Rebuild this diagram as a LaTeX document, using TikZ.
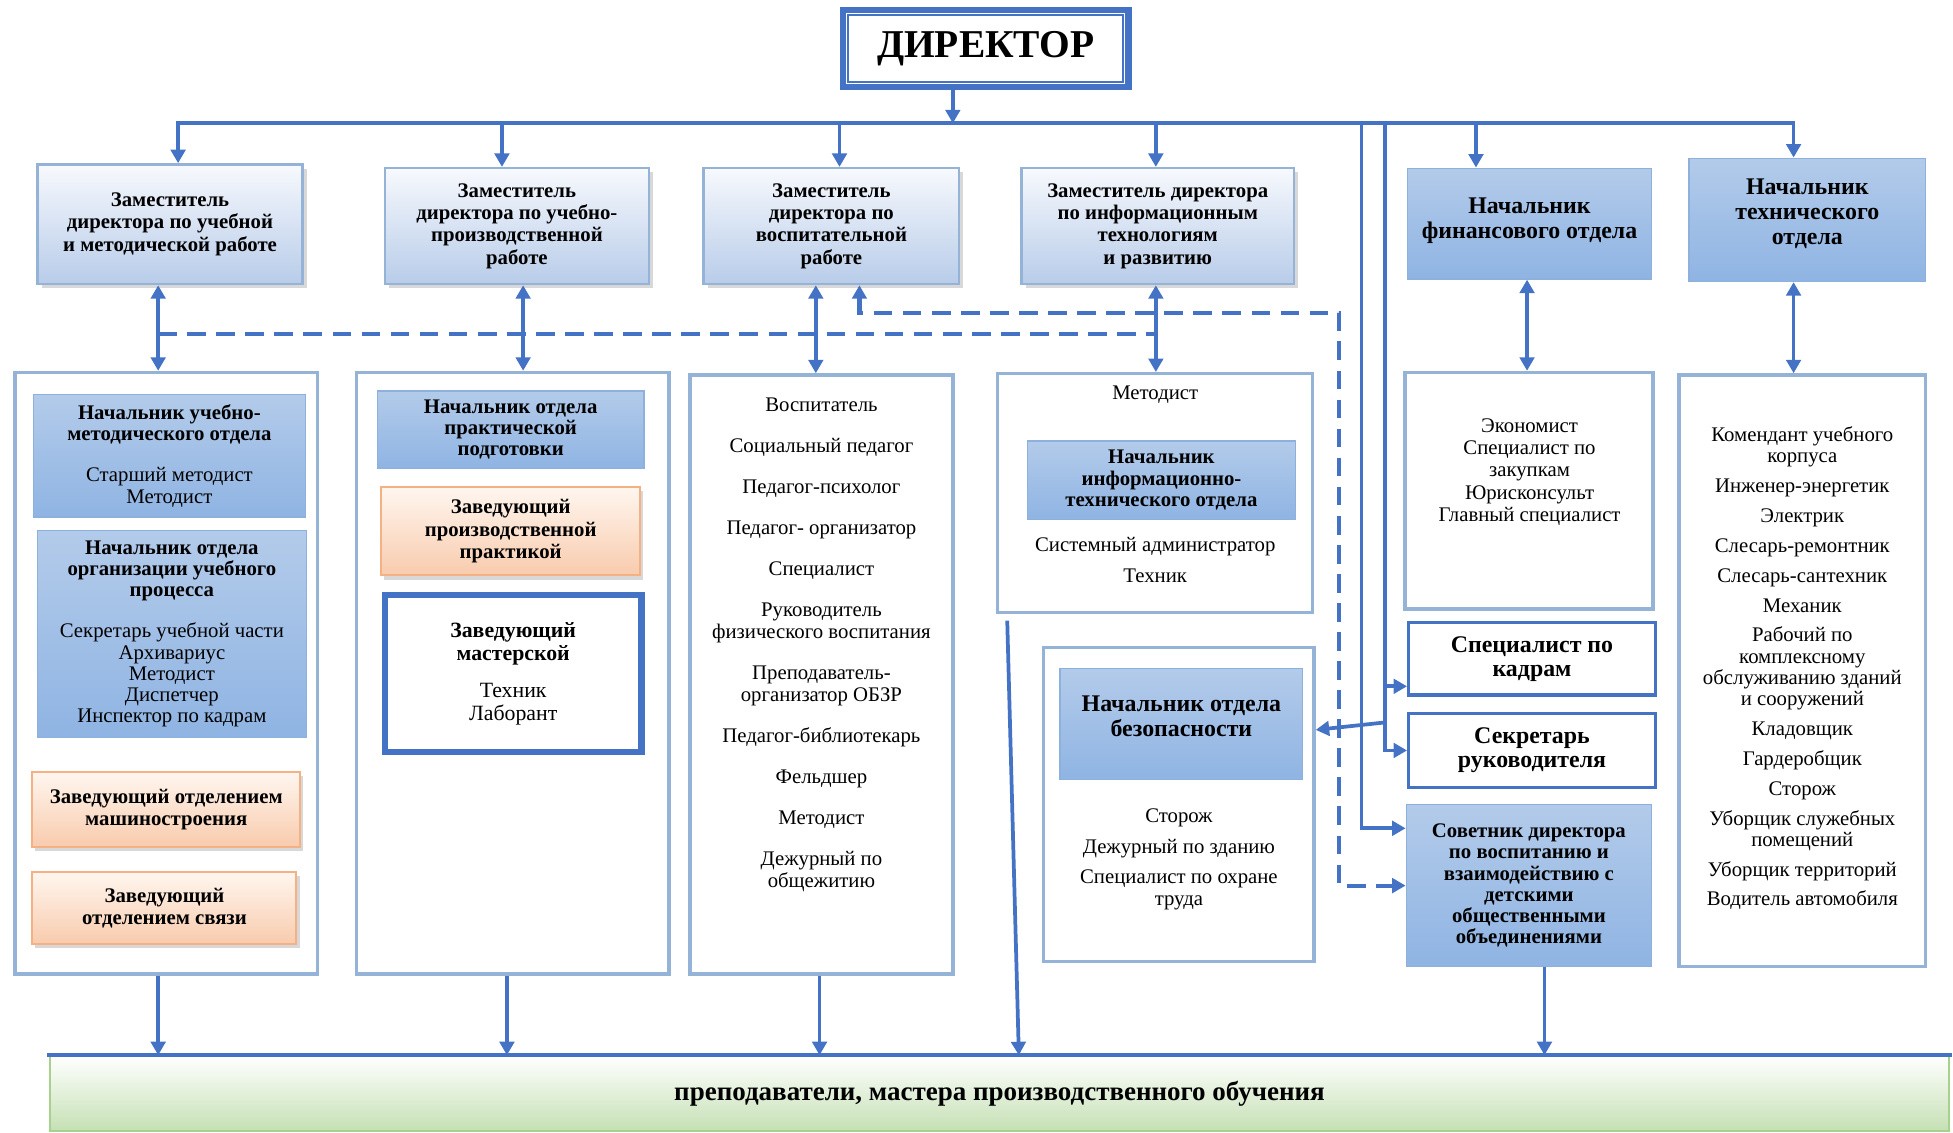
\documentclass[tikz,border=0pt]{standalone}
\usepackage{fontspec}
\setmainfont{Liberation Serif}
\usetikzlibrary{arrows.meta,shadows}

\definecolor{lnblue}{HTML}{4472C4}
\definecolor{frameblue}{HTML}{95B3D7}
\definecolor{deptop}{HTML}{F7F9FD}
\definecolor{depbot}{HTML}{B8CCE9}
\definecolor{bltop}{HTML}{B3CBEA}
\definecolor{blbot}{HTML}{8FB4E3}
\definecolor{boxedge}{HTML}{8EB0DC}
\definecolor{ortop}{HTML}{FFF6EF}
\definecolor{orbot}{HTML}{F8CBAD}
\definecolor{oredge}{HTML}{F4B183}
\definecolor{grbot}{HTML}{C5E0B4}
\definecolor{gredge}{HTML}{A9D18E}

\begin{document}
\begin{tikzpicture}[x=0.6pt, y=-0.6pt,
    every node/.style={align=center, inner sep=1pt},
    link/.style={draw=lnblue, line width=1.8pt, line cap=rect},
    arr/.style={draw=lnblue, line width=1.8pt, -{Triangle[length=6.5pt,width=7pt]}},
    arr2/.style={draw=lnblue, line width=1.8pt, {Triangle[length=6.5pt,width=7pt]}-{Triangle[length=6.5pt,width=7pt]}},
    dlink/.style={draw=lnblue, line width=2pt, dash pattern=on 9pt off 5pt},
    dirbox/.style={draw=lnblue, line width=3pt, fill=white, font=\fontsize{19}{22}\selectfont\bfseries},
    deputy/.style={draw=frameblue, line width=1.2pt, top color=deptop, bottom color=depbot,
        drop shadow={shadow xshift=2pt, shadow yshift=-2pt, fill=black!30},
        font=\fontsize{10}{10.8}\selectfont\bfseries},
    bluebox/.style={draw=boxedge, line width=0.6pt, top color=bltop, bottom color=blbot,
        font=\fontsize{10}{10.2}\selectfont},
    chief/.style={bluebox, font=\fontsize{11.5}{12}\selectfont\bfseries},
    orbox/.style={draw=oredge, line width=1pt, top color=ortop, bottom color=orbot,
        drop shadow={shadow xshift=1.5pt, shadow yshift=-2pt, fill=black!30},
        font=\fontsize{10}{10.8}\selectfont\bfseries},
    cont/.style={draw=frameblue, line width=1.6pt, fill=white},
    staff/.style={font=\fontsize{10}{10.5}\selectfont},
    kbox/.style={draw=lnblue, line width=1.6pt, fill=white, font=\fontsize{11.5}{11.4}\selectfont\bfseries},
    shopbox/.style={draw=lnblue, line width=3pt, fill=white, font=\fontsize{10.5}{11}\selectfont},
    barbox/.style={draw=gredge, line width=1pt, top color=white, bottom color=grbot,
        font=\fontsize{13}{14}\selectfont\bfseries}
  ]
  \useasboundingbox (0,0) rectangle (1568,909);

  % director
  \node[dirbox, minimum width=137.4pt, minimum height=37.2pt] (dir) at (791.5,39) {ДИРЕКТОР};
  \draw[lnblue, line width=1pt] ([shift={(4pt,-4pt)}]dir.north west) rectangle ([shift={(-4pt,4pt)}]dir.south east);

  % deputies and chiefs
  \node[deputy, minimum width=127.8pt, minimum height=57.6pt] (z1) at (136.5,180) {Заместитель\\директора по учебной\\и методической работе};
  \node[deputy, minimum width=127.2pt, minimum height=55.8pt] (z2) at (415,181.5) {Заместитель\\директора по учебно-\\производственной\\работе};
  \node[deputy, minimum width=123pt, minimum height=55.8pt] (z3) at (667.5,181.5) {Заместитель\\директора по\\воспитательной\\работе};
  \node[deputy, minimum width=131.4pt, minimum height=55.8pt] (z4) at (929.5,181.5) {Заместитель директора\\по информационным\\технологиям\\и развитию};
  \node[chief, minimum width=117.6pt, minimum height=53.4pt] (fin) at (1228,179.5) {Начальник\\финансового отдела\\[-7.2pt]};
  \node[chief, minimum width=114pt, minimum height=59.4pt] (tech) at (1451,176.5) {Начальник\\технического\\отдела\\[-4.2pt]};

  % departments
  \node[cont, minimum width=145.8pt, minimum height=289.8pt] (A) at (133.5,540.5) {};
  \node[cont, minimum width=150.6pt, minimum height=289.8pt] (B) at (411.5,540.5) {};
  \node[cont, minimum width=126.6pt, minimum height=288.6pt] (C) at (659.5,541.5) {};
  \node[cont, minimum width=151.8pt, minimum height=115.2pt] (D) at (927.5,396) {};
  \node[cont, minimum width=130.2pt, minimum height=151.2pt] (E) at (946.5,646) {};
  \node[cont, minimum width=119.4pt, minimum height=114pt] (F) at (1227.5,394) {};
  \node[cont, minimum width=118.8pt, minimum height=285pt] (G) at (1447,538.5) {};

  \node[bluebox, minimum width=130.8pt, minimum height=58.8pt] (a1) at (136,366)
    {\textbf{Начальник учебно-}\\\textbf{методического отдела}\\[9.6pt]Старший методист\\Методист};
  \node[bluebox, minimum width=129.6pt, minimum height=99.6pt] (a2) at (138,509)
    {\textbf{Начальник отдела}\\\textbf{организации учебного}\\\textbf{процесса}\\[9.6pt]Секретарь учебной части\\Архивариус\\Методист\\Диспетчер\\Инспектор по кадрам};
  \node[orbox, minimum width=129pt, minimum height=36pt] (a3) at (133.5,650) {Заведующий отделением\\машиностроения};
  \node[orbox, minimum width=127.2pt, minimum height=34.8pt] (a4) at (132,729) {Заведующий\\отделением связи};

  \node[bluebox, minimum width=128.4pt, minimum height=37.2pt] (b1) at (410,345)
    {\textbf{Начальник отдела}\\\textbf{практической}\\\textbf{подготовки}};
  \node[orbox, minimum width=124.8pt, minimum height=42.6pt] (b2) at (410,426.5) {Заведующий\\производственной\\практикой};
  \node[shopbox, minimum width=123.6pt, minimum height=75.6pt] (b3) at (412,541)
    {\textbf{Заведующий}\\\textbf{мастерской}\\[7.2pt]Техник\\Лаборант};

  \node[staff] (clist) at (659.5,517.5) {Воспитатель\\[9.3pt]Социальный педагог\\[9.3pt]Педагог-психолог\\[9.3pt]Педагог- организатор\\[9.3pt]Специалист\\[9.3pt]Руководитель\\физического воспитания\\[9.3pt]Преподаватель-\\организатор ОБЗР\\[9.3pt]Педагог-библиотекарь\\[9.3pt]Фельдшер\\[9.3pt]Методист\\[9.3pt]Дежурный по\\общежитию};

  \node[staff] (dmet) at (927.5,317) {Методист};
  \node[bluebox, minimum width=129pt, minimum height=37.8pt] (d1) at (932.5,385.5)
    {\textbf{Начальник}\\\textbf{информационно-}\\\textbf{технического отдела}};
  \node[staff] (dlist) at (927.5,449.5) {Системный администратор\\[4.5pt]Техник};

  \node[chief, minimum width=117pt, minimum height=53.4pt] (e1) at (948.5,581.5) {Начальник отдела\\безопасности\\[-4.2pt]};
  \node[staff] (elist) at (946.5,690) {Сторож\\[4.5pt]Дежурный по зданию\\[3.9pt]Специалист по охране\\труда};

  \node[staff, font=\fontsize{10}{10.8}\selectfont] (flist) at (1228,379) {Экономист\\Специалист по\\закупкам\\Юрисконсульт\\Главный специалист};

  \node[kbox, minimum width=118.8pt, minimum height=34.8pt] (h1) at (1230,529) {Специалист по\\кадрам};
  \node[kbox, minimum width=118.8pt, minimum height=35.4pt] (h2) at (1230,602.5) {Секретарь\\руководителя};
  \node[bluebox, font=\fontsize{10}{10.2}\selectfont\bfseries, minimum width=118.2pt, minimum height=78pt] (h3) at (1227.5,711)
    {Советник директора\\по воспитанию и\\взаимодействию с\\детскими\\общественными\\объединениями};

  \node[staff, font=\fontsize{10}{10.2}\selectfont] (glist) at (1447,536.5) {Комендант учебного\\корпуса\\[4.2pt]Инженер-энергетик\\[4.2pt]Электрик\\[4.2pt]Слесарь-ремонтник\\[4.2pt]Слесарь-сантехник\\[4.2pt]Механик\\[4.2pt]Рабочий по\\комплексному\\обслуживанию зданий\\и сооружений\\[4.2pt]Кладовщик\\[4.2pt]Гардеробщик\\[4.2pt]Сторож\\[4.2pt]Уборщик служебных\\помещений\\[4.2pt]Уборщик территорий\\[4.2pt]Водитель автомобиля};

  \node[barbox, minimum width=915pt, minimum height=36pt] (bar) at (802.5,878) {преподаватели, мастера производственного обучения};
  \draw[link] (bar.north west) -- (bar.north east);

  % connectors
  \coordinate (busL) at (143,99);
  \coordinate (busR) at (1440,99);
  \coordinate (dirout) at ([xshift=-15.9pt]dir.south);
  \draw[arr] (dirout) -- (dirout |- busL);
  \draw[link] (busL) -- (busR);
  \foreach \x/\n in {143/z1,403/z2,674/z3,928/z4,1185/fin,1440/tech}
    \draw[arr] (\x,99) -- (\n.north -| \x,0);
  \foreach \x/\a/\b in {127/z1/A,420/z2/B,655/z3/C,928/z4/D,1226/fin/F,1440/tech/G}
    \draw[arr2] (\a.south -| \x,0) -- (\b.north -| \x,0);
  \foreach \x/\a in {127/A,407/B,658/C,1240/h3}
    \draw[arr] (\a.south -| \x,0) -- (bar.north -| \x,0);
  \draw[arr] ([shift={(5.4pt,-3pt)}]D.south west) -- (bar.north -| 818,0);

  \coordinate (dl) at (127,268);
  \coordinate (dr) at (928,268);
  \draw[dlink] (dl) -- (dr);
  \draw[dlink, {Triangle[length=6.5pt,width=7pt]}-{Triangle[length=6.5pt,width=7pt]}]
    ([xshift=13.5pt]z3.south) |- (1075,251) |- (h3.west);

  \coordinate (v1) at (1093,99);
  \coordinate (v2) at (1112,99);
  \coordinate (h3in) at ([yshift=27.6pt]h3.west);
  \coordinate (h1in) at ([yshift=-13.2pt]h1.west);
  \coordinate (ein) at ([yshift=36pt]E.east);
  \draw[arr] (v1) |- (h3in);
  \draw[link] (v2) -- (v2 |- h2.west);
  \draw[arr] (v2 |- h1in) -- (h1in);
  \draw[arr] (v2 |- h2.west) -- (h2.west);
  \draw[arr] (v2 |- 0,580) -- (ein);
\end{tikzpicture}
\end{document}
